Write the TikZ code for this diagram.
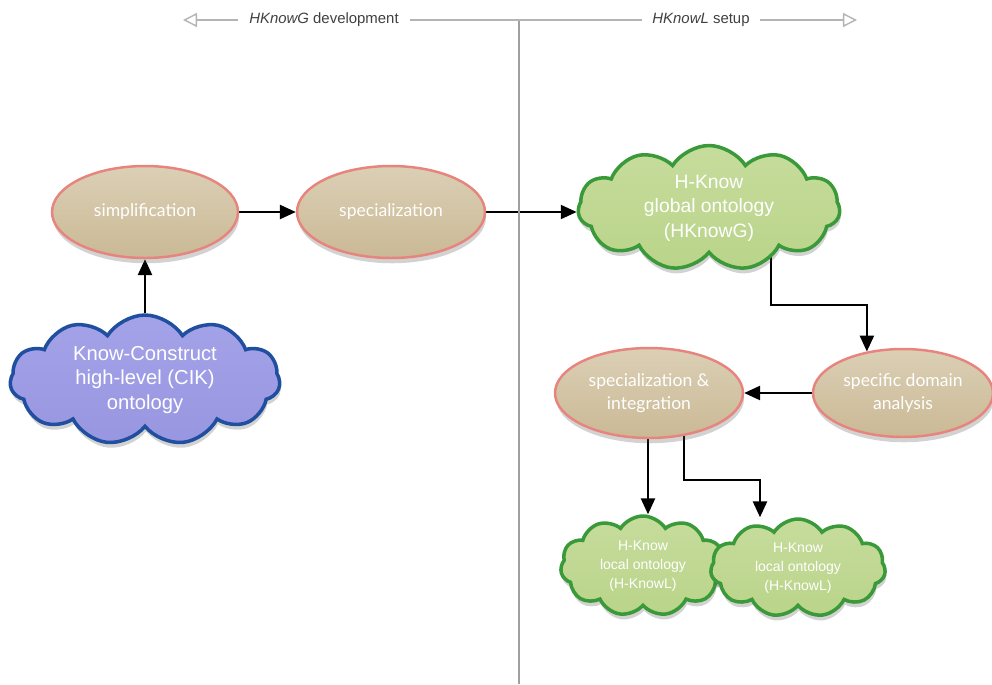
\documentclass[tikz,border=0pt]{standalone}
\usepackage{fontspec}
\setmainfont{Liberation Sans}
\newfontfamily\gillfont{Lato}
\usetikzlibrary{shapes.geometric,shapes.symbols,arrows.meta,shadows,calc}
\pgfdeclarelayer{background}
\pgfsetlayers{background,main}

\definecolor{tantop}{HTML}{DBCFB5}
\definecolor{tanbot}{HTML}{CAB995}
\definecolor{salmon}{HTML}{E8847E}
\definecolor{leaf}{HTML}{BAD48A}
\definecolor{leaftop}{HTML}{C6DC9C}
\definecolor{leafedge}{HTML}{3A9A3A}
\definecolor{lilac}{HTML}{9896E0}
\definecolor{lilactop}{HTML}{A4A2E8}
\definecolor{navy}{HTML}{1F4F9E}
\definecolor{rule}{HTML}{B4B4B4}
\definecolor{divider}{HTML}{A0A0A0}

\tikzset{
  soft shadow/.style={drop shadow={shadow xshift=0.6pt, shadow yshift=-3pt, opacity=0.25, fill=black!70}},
  procbox/.style={ellipse, draw=salmon, line width=1.4pt, top color=tantop, bottom color=tanbot,
    soft shadow, inner sep=0pt, text=white, align=center,
    font=\gillfont\fontsize{10}{13}\selectfont},
  ontocloud/.style={cloud, cloud puffs=11, cloud puff arc=115, cloud ignores aspect,
    line width=2pt, soft shadow, inner sep=0pt, text=white, align=center},
  greencloud/.style={ontocloud, draw=leafedge, top color=leaftop, bottom color=leaf},
  bluecloud/.style={ontocloud, draw=navy, top color=lilactop, bottom color=lilac},
  flow/.style={line width=1.1pt, black, -{Triangle[length=9pt,width=8pt]}},
  hdrline/.style={line width=0.8pt, rule},
  hdrtip/.style={hdrline, -{Triangle[open,length=8pt,width=8pt]}},
  hdrlabel/.style={text=black!75, inner sep=6pt, font=\fontsize{8.5}{10}\selectfont}
}

\begin{document}
\begin{tikzpicture}[x=0.02cm, y=-0.02cm]
\useasboundingbox (0,0) rectangle (992,684);

% phase header and divider
\node[hdrlabel] (hg) at (324,20) {\textit{HKnowG} development};
\node[hdrlabel] (hl) at (701,20) {\textit{HKnowL} setup};
\coordinate (la) at (183,20);
\coordinate (ra) at (857,20);
\coordinate (vt) at (519,21);
\coordinate (vb) at (519,684);
\draw[hdrtip] (hg.west) -- (la);
\draw[hdrline] (hg.east) -- (hl.west);
\draw[hdrtip] (hl.east) -- (ra);
\draw[line width=0.6pt, divider] (vt) -- (vb);

% HKnowG development
\node[procbox, minimum width=3.72cm, minimum height=1.84cm] (simp) at (145,212) {simplification};
\node[procbox, minimum width=3.76cm, minimum height=1.84cm] (spec) at (391,212) {specialization};
\node[bluecloud, minimum width=5.4cm, minimum height=2.6cm,
      font=\fontsize{11.5}{14}\selectfont] (kc) at (145,380)
      {Know-Construct\\high-level (CIK)\\ontology};

% HKnowL setup
\node[greencloud, minimum width=5.24cm, minimum height=2.5cm,
      font=\fontsize{11}{14}\selectfont] (glob) at (709,208)
      {H-Know\\global ontology\\(HKnowG)};
\node[procbox, minimum width=3.6cm, minimum height=1.76cm] (sda) at (903,393) {specific domain\\analysis};
\node[procbox, minimum width=3.76cm, minimum height=1.8cm] (sai) at (649,393) {specialization \&\\integration};
\node[greencloud, minimum width=3.3cm, minimum height=2.0cm,
      font=\fontsize{8}{11}\selectfont] (loc1) at (643,566)
      {H-Know\\local ontology\\(H-KnowL)};
\node[greencloud, minimum width=3.5cm, minimum height=1.96cm,
      font=\fontsize{8}{11}\selectfont] (loc2) at (798,568)
      {H-Know\\local ontology\\(H-KnowL)};

% connectors, kept behind the nodes
\coordinate (b1) at (771,305);
\coordinate (b2) at (684,480);
\coordinate (b3) at (760,480);
\begin{pgfonlayer}{background}
  \draw[flow] (simp) -- (spec);
  \draw[flow] (spec.east) -- (spec.east -| glob.west);
  \draw[flow] (kc.north -| simp.south) -- (simp.south);
  \draw[flow] (glob.center -| b1) -- (b1) -- (b1 -| sda.131) -- (sda.131);
  \draw[flow] (sda) -- (sai);
  \draw[flow] (sai.center -| 648,0) -- (loc1.north -| 648,0);
  \draw[flow] (sai.center -| b2) -- (b2) -- (b3) -- (loc2.north -| b3);
\end{pgfonlayer}
\end{tikzpicture}
\end{document}
